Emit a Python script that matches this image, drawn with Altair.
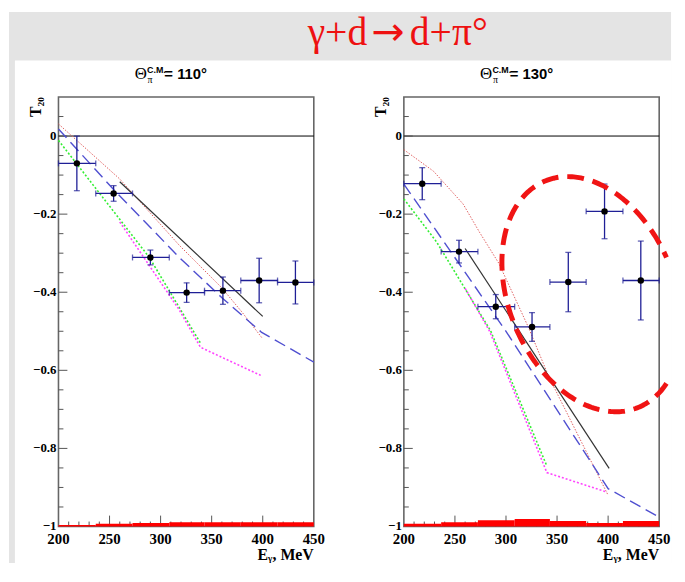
import numpy as np
import pandas as pd
import altair as alt

W, H = 258, 434

# ---------------- data ----------------
E_CENTER = [218.0, 254.0, 290.0, 325.5, 361.0, 396.5, 432.0]
E_LOW = [200.0, 236.5, 272.5, 308.5, 343.0, 378.5, 414.5]
E_HIGH = [236.5, 272.5, 308.5, 343.0, 378.5, 414.5, 450.0]

T20_110 = [-0.070, -0.147, -0.311, -0.401, -0.396, -0.370, -0.375]
ERR_110 = [0.070, 0.020, 0.019, 0.025, 0.035, 0.057, 0.055]
SYS_110 = [0.004, 0.007, 0.009, 0.011, 0.011, 0.011, 0.011]

T20_130 = [-0.122, -0.296, -0.437, -0.489, -0.374, -0.193, -0.370]
ERR_130 = [0.041, 0.029, 0.031, 0.037, 0.076, 0.070, 0.101]
SYS_130 = [0.007, 0.011, 0.016, 0.019, 0.014, 0.009, 0.014]

# theory curves (E_gamma, T20)
BLACK_110 = ([260, 400], [-0.117, -0.462])
RED_110 = ([200, 260, 318, 360, 380, 399], [0.031, -0.110, -0.279, -0.389, -0.452, -0.516])
BLUE_110 = ([200, 254, 318, 360, 399, 450], [0.018, -0.137, -0.310, -0.414, -0.503, -0.579])
GREEN_110 = ([200, 289, 339], [-0.011, -0.311, -0.530])
MAGENTA_110 = ([260, 318, 339, 398], [-0.220, -0.444, -0.541, -0.613])

BLACK_130 = ([260, 401], [-0.288, -0.851])
RED_130 = ([200, 229, 258, 274, 293, 322, 342, 400], [-0.035, -0.090, -0.174, -0.246, -0.326, -0.490, -0.617, -0.920])
BLUE_130 = ([200, 300, 400, 450], [-0.123, -0.500, -0.903, -0.976])
GREEN_130 = ([200, 232, 285, 340], [-0.161, -0.271, -0.499, -0.845])
MAGENTA_130 = ([260, 284, 340, 399], [-0.390, -0.500, -0.862, -0.912])

# axis ticks and labels
X_LABELS = [200, 250, 300, 350, 400, 450]
X_LABEL_TEXT = ["200", "250", "300", "350", "400", "450"]
X_MAJOR = [250, 300, 350, 400]
X_MINOR = [210, 220, 230, 240, 260, 270, 280, 290, 310, 320, 330, 340,
           360, 370, 380, 390, 410, 420, 430, 440]
Y_LABELS = [0.0, -0.2, -0.4, -0.6, -0.8, -1.0]
Y_LABEL_TEXT = ["0", "−0.2", "−0.4", "−0.6", "−0.8", "−1"]
Y_MINOR = [0.05, -0.05, -0.1, -0.15, -0.25, -0.3, -0.35, -0.45, -0.5, -0.55,
           -0.65, -0.7, -0.75, -0.85, -0.9, -0.95]

# highlight ellipse (130 deg panel)
ELL_CX, ELL_CY = 384.0, -0.405
ELL_AX = 88.0
ELL_BC, ELL_BS = 0.081, 0.290

XS = alt.Scale(domain=[200, 450], nice=False, zero=False)
YS = alt.Scale(domain=[-1.0, 0.1], nice=False, zero=False)

SERIF = "Liberation Serif"
SANS = "Liberation Sans"
EB = "#1f1f96"
TICK = "#555555"

one = pd.DataFrame({"a": [0]})


def text_layer(txt, x, y, size, font=SERIF, weight="normal", color="black",
               align="left", angle=0):
    return alt.Chart(one).mark_text(
        text=txt, font=font, fontSize=size, fontWeight=weight, color=color,
        align=align, baseline="alphabetic", angle=angle
    ).encode(x=alt.value(x), y=alt.value(y))


def curve_layer(curve, color, dash, width):
    df = pd.DataFrame({"E": curve[0], "T": curve[1], "i": range(len(curve[0]))})
    kw = dict(color=color, strokeWidth=width)
    if dash:
        kw["strokeDash"] = dash
    return alt.Chart(df).mark_line(**kw).encode(
        x=alt.X("E:Q", scale=XS, axis=None),
        y=alt.Y("T:Q", scale=YS, axis=None),
        order="i:Q")


def panel(angle_txt, t20, err, sys, curves, extra_back, extra_front):
    pts = pd.DataFrame({"E": E_CENTER, "lo": E_LOW, "hi": E_HIGH, "T": t20,
                        "Tlo": np.array(t20) - np.array(err),
                        "Thi": np.array(t20) + np.array(err)})
    caps_h = pd.DataFrame({"E": E_LOW + E_HIGH, "T": t20 + t20})
    caps_v = pd.DataFrame({"E": E_CENTER + E_CENTER,
                           "T": list(pts["Tlo"]) + list(pts["Thi"])})
    bands = pd.DataFrame({"lo": E_LOW, "hi": E_HIGH, "b": [-1.0] * 7,
                          "t": [-1.0 + s for s in sys]})

    layers = list(extra_back)
    # panel title
    layers += [
        text_layer("Θ", 77, -18, 17),
        text_layer("C.M.", 89.5, -24.5, 9, font=SANS, weight="bold"),
        text_layer("π", 90, -14.5, 10),
        text_layer("= " + angle_txt + "°", 107, -18, 15, font=SANS, weight="bold"),
    ]
    # frame
    layers.append(alt.Chart(one).mark_rect(filled=False, stroke="#666666", strokeWidth=1.6)
                  .encode(x=alt.value(0), x2=alt.value(W), y=alt.value(0), y2=alt.value(H)))
    # zero line
    layers.append(alt.Chart(pd.DataFrame({"x1": [200], "x2": [450], "y": [0.0]}))
                  .mark_rule(color="black", strokeWidth=1)
                  .encode(x=alt.X("x1:Q", scale=XS, axis=None), x2="x2:Q",
                          y=alt.Y("y:Q", scale=YS, axis=None)))
    # inner ticks
    layers.append(alt.Chart(pd.DataFrame({"v": Y_LABELS[:-1]})).mark_rule(color=TICK, strokeWidth=1)
                  .encode(y=alt.Y("v:Q", scale=YS, axis=None), x=alt.value(0), x2=alt.value(9)))
    layers.append(alt.Chart(pd.DataFrame({"v": Y_MINOR})).mark_rule(color=TICK, strokeWidth=1)
                  .encode(y=alt.Y("v:Q", scale=YS, axis=None), x=alt.value(0), x2=alt.value(5)))
    layers.append(alt.Chart(pd.DataFrame({"v": X_MAJOR})).mark_rule(color=TICK, strokeWidth=1)
                  .encode(x=alt.X("v:Q", scale=XS, axis=None), y=alt.value(H), y2=alt.value(H - 11)))
    layers.append(alt.Chart(pd.DataFrame({"v": X_MINOR})).mark_rule(color=TICK, strokeWidth=1)
                  .encode(x=alt.X("v:Q", scale=XS, axis=None), y=alt.value(H), y2=alt.value(H - 5)))
    # tick labels
    layers.append(alt.Chart(pd.DataFrame({"v": X_LABELS, "s": X_LABEL_TEXT}))
                  .mark_text(font=SERIF, fontSize=15, fontWeight="bold", color="black",
                             align="center", baseline="top")
                  .encode(x=alt.X("v:Q", scale=XS, axis=None), y=alt.value(H + 6), text="s:N"))
    layers.append(alt.Chart(pd.DataFrame({"v": Y_LABELS, "s": Y_LABEL_TEXT}))
                  .mark_text(font=SERIF, fontSize=13, fontWeight="bold", color="black",
                             align="right", baseline="middle")
                  .encode(y=alt.Y("v:Q", scale=YS, axis=None), x=alt.value(-2), text="s:N"))
    # systematic error bands
    layers.append(alt.Chart(bands).mark_rect(color="#ff0000")
                  .encode(x=alt.X("lo:Q", scale=XS, axis=None), x2="hi:Q",
                          y=alt.Y("b:Q", scale=YS, axis=None), y2="t:Q"))
    # curves
    layers += curves
    # error bars
    layers.append(alt.Chart(pts).mark_rule(color=EB, strokeWidth=1.3)
                  .encode(x=alt.X("lo:Q", scale=XS, axis=None), x2="hi:Q",
                          y=alt.Y("T:Q", scale=YS, axis=None)))
    layers.append(alt.Chart(pts).mark_rule(color=EB, strokeWidth=1.3)
                  .encode(x=alt.X("E:Q", scale=XS, axis=None),
                          y=alt.Y("Tlo:Q", scale=YS, axis=None), y2="Thi:Q"))
    layers.append(alt.Chart(caps_h).mark_tick(orient="vertical", size=6, thickness=1.3, color=EB)
                  .encode(x=alt.X("E:Q", scale=XS, axis=None), y=alt.Y("T:Q", scale=YS, axis=None)))
    layers.append(alt.Chart(caps_v).mark_tick(orient="horizontal", size=6, thickness=1.3, color=EB)
                  .encode(x=alt.X("E:Q", scale=XS, axis=None), y=alt.Y("T:Q", scale=YS, axis=None)))
    # points
    layers.append(alt.Chart(pts).mark_point(filled=True, size=42, color="black", opacity=1)
                  .encode(x=alt.X("E:Q", scale=XS, axis=None),
                          y=alt.Y("T:Q", scale=YS, axis=None)))
    # axis titles
    layers.append(text_layer("T₂₀", -18, 0, 16, weight="bold", align="right", angle=270))
    layers.append(text_layer("Eᵧ, MeV", W, H + 34, 16, weight="bold", align="right"))
    layers += extra_front
    return alt.layer(*layers).properties(width=W, height=H)


curves_110 = [
    curve_layer(RED_110, "#e06060", [1.5, 1.5], 1.0),
    curve_layer(GREEN_110, "#33ee33", [2, 2], 1.6),
    curve_layer(MAGENTA_110, "#ff44ff", [2, 2], 1.6),
    curve_layer(BLUE_110, "#4f4fd0", [12, 6], 1.4),
    curve_layer(BLACK_110, "#333333", None, 1.2),
]
curves_130 = [
    curve_layer(RED_130, "#e06060", [1.5, 1.5], 1.0),
    curve_layer(GREEN_130, "#33ee33", [2, 2], 1.6),
    curve_layer(MAGENTA_130, "#ff44ff", [2, 2], 1.6),
    curve_layer(BLUE_130, "#4f4fd0", [12, 6], 1.4),
    curve_layer(BLACK_130, "#333333", None, 1.2),
]

TITLE_RED = "#ee1111"
background = [
    alt.Chart(one).mark_rect(color="#e4e4e4").encode(
        x=alt.value(-50), x2=alt.value(619), y=alt.value(-86), y2=alt.value(471)),
    alt.Chart(one).mark_rect(color="white").encode(
        x=alt.value(-44), x2=alt.value(619), y=alt.value(-37), y2=alt.value(471)),
    text_layer("γ+d", 312, -53, 40, color=TITLE_RED, align="right"),
    text_layer("→", 333, -53, 40, font="DejaVu Sans", color=TITLE_RED, align="center"),
    text_layer("d+π°", 355, -53, 40, color=TITLE_RED, align="left"),
]

t = np.linspace(0.59, 2 * np.pi - 0.59, 260)
ellipse = pd.DataFrame({"E": ELL_CX + ELL_AX * np.cos(t),
                        "T": ELL_CY - ELL_BC * np.cos(t) - ELL_BS * np.sin(t),
                        "i": np.arange(len(t))})
ellipse_layer = alt.Chart(ellipse).mark_line(
    color="#f01414", strokeWidth=5, strokeDash=[17, 9], strokeCap="butt"
).encode(x=alt.X("E:Q", scale=XS, axis=None), y=alt.Y("T:Q", scale=YS, axis=None), order="i:Q")

left = panel("110", T20_110, ERR_110, SYS_110, curves_110, background, [])
right = panel("130", T20_130, ERR_130, SYS_130, curves_130, [], [ellipse_layer])

chart = alt.hconcat(left, right, spacing=91, bounds="flush").properties(
    padding=0, background="white"
).configure_view(stroke="transparent")

chart.save("out.html", embed_options={"renderer": "svg", "actions": False})
